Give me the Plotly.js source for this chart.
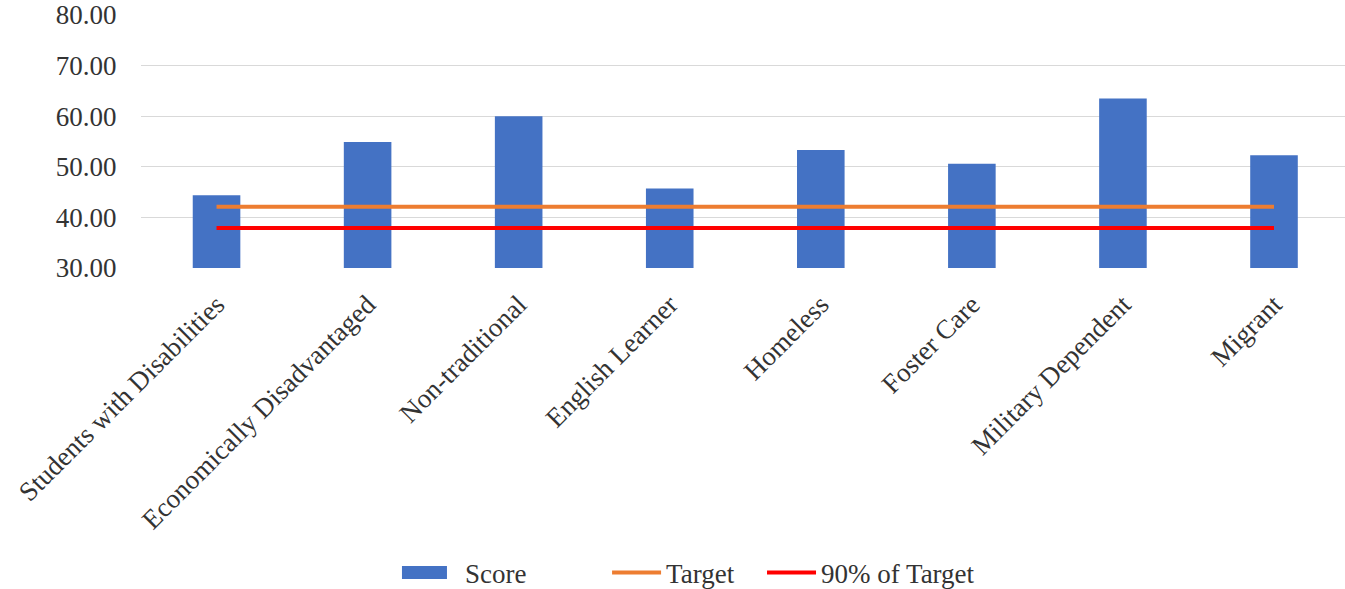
<!DOCTYPE html>
<html>
<head>
<meta charset="utf-8">
<script src="https://cdn.plot.ly/plotly-3.0.1.min.js"></script>
<style>html,body{margin:0;padding:0;background:#fff;overflow:hidden;}#chart{width:1345px;height:589px;}</style>
</head>
<body>
<div id="chart"></div>
<script>
var categories = ["Students with Disabilities", "Economically Disadvantaged", "Non-traditional", "English Learner", "Homeless", "Foster Care", "Military Dependent", "Migrant"];
var scoreValues = [44.4, 54.9, 60.0, 45.7, 53.3, 50.6, 63.5, 52.3];
var targetValues = [42.1, 42.1, 42.1, 42.1, 42.1, 42.1, 42.1, 42.1];
var ninetyValues = [37.9, 37.9, 37.9, 37.9, 37.9, 37.9, 37.9, 37.9];
var yTickValues = [30, 40, 50, 60, 70, 80];

var fontFamily = '"Liberation Serif", "Times New Roman", serif';
var textColor = '#333333';
var fontSize = 27;

var traces = [
  {type: 'bar', name: 'Score', x: categories, y: scoreValues, legend: 'legend',
   marker: {color: '#4472C4'}, hoverinfo: 'skip'},
  {type: 'scatter', mode: 'lines', name: 'Target', x: categories, y: targetValues, legend: 'legend2',
   line: {color: '#ED7D31', width: 4}, hoverinfo: 'skip'},
  {type: 'scatter', mode: 'lines', name: '90% of Target', x: categories, y: ninetyValues, legend: 'legend3',
   line: {color: '#FF0000', width: 4}, hoverinfo: 'skip'}
];

function legendAt(x, w) {
  return {orientation: 'h', x: x, xanchor: 'left', y: -1.2057, yanchor: 'middle',
          itemwidth: w, bgcolor: 'rgba(0,0,0,0)',
          font: {family: fontFamily, size: fontSize, color: textColor}};
}

var layout = {
  width: 1345, height: 589,
  margin: {l: 141, r: 0, t: 15, b: 320.7, autoexpand: false},
  paper_bgcolor: '#ffffff', plot_bgcolor: '#ffffff',
  font: {family: fontFamily, size: fontSize, color: textColor},
  bargap: 0.685,
  showlegend: true,
  legend: legendAt(0.2018, 71),
  legend2: legendAt(0.3871, 49),
  legend3: legendAt(0.5158, 49),
  xaxis: {type: 'category', range: [-0.5, 7.47], tickangle: -45,
          showgrid: false, showline: false, zeroline: false, automargin: false,
          ticks: 'outside', ticklen: 9, tickcolor: 'rgba(0,0,0,0)',
          tickfont: {family: fontFamily, size: fontSize, color: textColor}},
  yaxis: {range: [30, 80], tickvals: yTickValues, tickformat: '.2f',
          showgrid: true, gridcolor: '#d9d9d9', gridwidth: 1.3,
          zeroline: false, showline: false, automargin: false,
          ticks: 'outside', ticklen: 18, tickcolor: 'rgba(0,0,0,0)',
          tickfont: {family: fontFamily, size: fontSize, color: textColor}}
};

Plotly.newPlot('chart', traces, layout, {displayModeBar: false, staticPlot: true}).then(function(gd) {
  try {
    var leg = gd.querySelector('g.legend');
    if (leg) {
      var p = leg.querySelector('g.legendpoints path');
      if (p) p.setAttribute('d', 'M22.5,6.5H-22.5V-6.5H22.5Z');
    }
  } catch (e) {}
});
</script>
</body>
</html>
